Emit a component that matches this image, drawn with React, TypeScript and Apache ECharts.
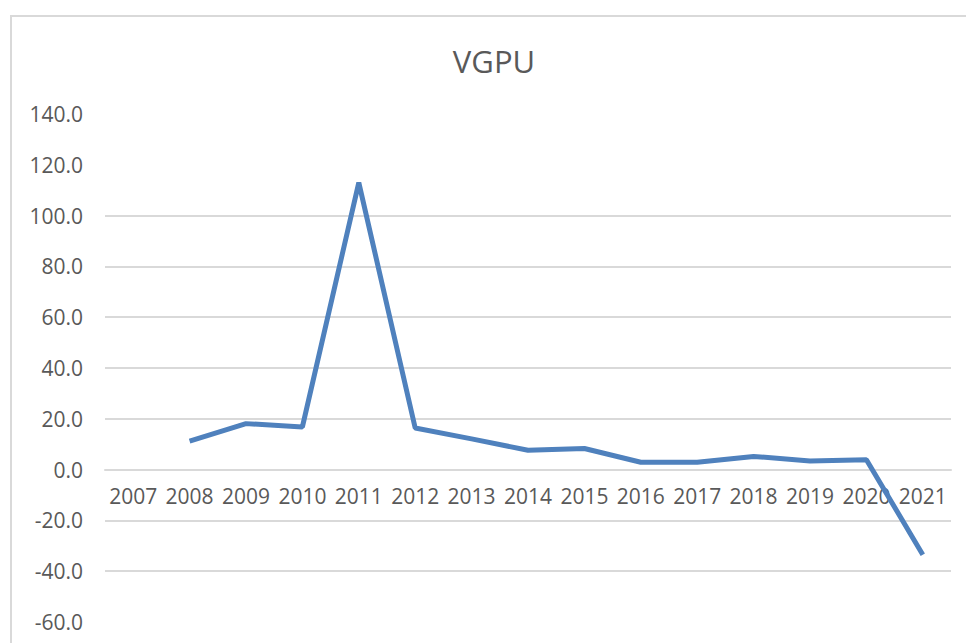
import React, { useEffect, useRef } from "react";
import * as echarts from "echarts";

const categories = ["2007", "2008", "2009", "2010", "2011", "2012", "2013", "2014", "2015", "2016", "2017", "2018", "2019", "2020", "2021"];
const vgpuValues: (number | null)[] = [null, 11.2, 18.1, 16.8, 113.0, 16.4, 12.1, 7.6, 8.3, 2.9, 2.9, 5.2, 3.4, 3.9, -33.5];
const yMin = -60;
const yMax = 140;
const yInterval = 20;
const titleText = "VGPU";

export default function App() {
  const ref = useRef<HTMLDivElement>(null);
  useEffect(() => {
    if (!ref.current) return;
    const chart = echarts.init(ref.current, null, { renderer: "svg" });
    const H = 643;
    const gridTop = 114;
    const gridBottom = 21;
    const plotH = H - gridTop - gridBottom;
    const zeroFromBottom = ((0 - yMin) / (yMax - yMin)) * plotH;
    const grid = "#d9d9d9";
    const hidden = "rgba(0,0,0,0)";
    // split lines: -60 .. 140 (11 lines); hide -60, 120, 140
    const splitColors = [hidden, grid, grid, grid, grid, grid, grid, grid, grid, hidden, hidden];
    chart.setOption({
      animation: false,
      backgroundColor: "#ffffff",
      title: {
        text: titleText,
        left: 494,
        top: 45,
        padding: 0,
        textAlign: "center",
        textStyle: { fontFamily: "Open Sans", fontSize: 31, fontWeight: "normal", color: "#595959" },
      },
      graphic: [
        {
          type: "rect",
          shape: { x: 11, y: 16, width: 1000, height: 700 },
          style: { fill: "none", stroke: "#d9d9d9", lineWidth: 2 },
          silent: true,
          z: -1,
        },
      ],
      grid: { left: 105, right: 15, top: gridTop, bottom: gridBottom, containLabel: false, outerBoundsMode: "none" },
      xAxis: {
        type: "category",
        data: categories,
        boundaryGap: true,
        position: "bottom",
        offset: -zeroFromBottom,
        axisLine: { show: true, onZero: false, lineStyle: { color: grid, width: 2 } },
        axisTick: { show: false },
        axisLabel: { interval: 0, hideOverlap: false, margin: 16, fontFamily: "Open Sans", fontSize: 21, color: "#595959" },
        splitLine: { show: false },
      },
      yAxis: {
        type: "value",
        min: yMin,
        max: yMax,
        interval: yInterval,
        axisLine: { show: false },
        axisTick: { show: false },
        axisLabel: {
          margin: 22,
          fontFamily: "Open Sans",
          fontSize: 21,
          color: "#595959",
          formatter: (v: number) => v.toFixed(1),
        },
        splitLine: { show: true, lineStyle: { color: splitColors, width: 2 } },
      },
      series: [
        {
          name: titleText,
          type: "line",
          data: vgpuValues,
          symbol: "none",
          showSymbol: false,
          connectNulls: false,
          lineStyle: { color: "#4f81bd", width: 5 },
          itemStyle: { color: "#4f81bd" },
        },
      ],
    });
    return () => chart.dispose();
  }, []);
  return <div ref={ref} style={{ position: "absolute", left: 0, top: 0, width: 966, height: 643 }} />;
}
